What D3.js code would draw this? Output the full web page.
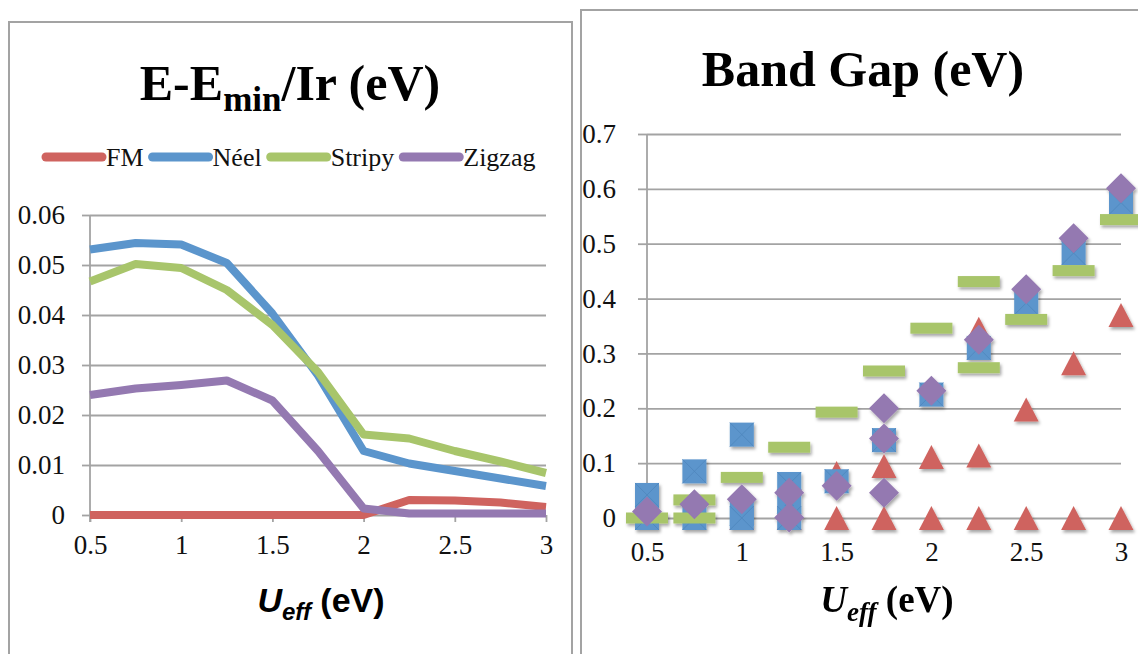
<!DOCTYPE html>
<html lang="en">
<head>
<meta charset="UTF-8">
<title>E-Emin/Ir and Band Gap vs Ueff</title>
<script src="https://cdn.jsdelivr.net/npm/d3@7/dist/d3.min.js"></script>
<style>
	body { margin: 0; background: #fff; }
	svg { display: block; }
	.serif { font-family: "Liberation Serif", "Times New Roman", serif; }
</style>
</head>
<body>
<svg></svg>
<script>
	// Ueff values (eV), shared by both panels
	var uEff = [0.5, 0.75, 1, 1.25, 1.5, 1.75, 2, 2.25, 2.5, 2.75, 3];
	var xTicks = [0.5, 1, 1.5, 2, 2.5, 3];

	// left panel: E - Emin per Ir (eV)
	var names = ['FM', 'Néel', 'Stripy', 'Zigzag'];
	var fmE     = [0, 0, 0, 0, 0, 0, 0, 0.0030, 0.0029, 0.0025, 0.0016];
	var neelE   = [0.0531, 0.0544, 0.0541, 0.0504, 0.0403, 0.0279, 0.0128, 0.0103, 0.0088, 0.0073, 0.0058];
	var stripyE = [0.0467, 0.0502, 0.0494, 0.0450, 0.0380, 0.0286, 0.0161, 0.0153, 0.0128, 0.0107, 0.0084];
	var zigzagE = [0.0240, 0.0253, 0.0260, 0.0269, 0.0229, 0.0128, 0.0013, 0.0003, 0.0003, 0.0003, 0.0003];
	var leftYTicks = [0, 0.01, 0.02, 0.03, 0.04, 0.05, 0.06];

	// right panel: band gaps (eV), several solutions per Ueff, as [Ueff, gap]
	var fmGap = [[1, 0], [1.25, 0], [1.5, 0.082], [1.5, 0], [1.75, 0.095], [1.75, 0], [2, 0.111], [2, 0],
		[2.25, 0.345], [2.25, 0.114], [2.25, 0], [2.5, 0.198], [2.5, 0], [2.75, 0.282], [2.75, 0], [3, 0.37], [3, 0]];
	var neelGap = [[0.5, 0.042], [0.5, 0], [0.75, 0.085], [0.75, 0], [1, 0.152], [1, 0.008], [1, 0],
		[1.25, 0.062], [1.25, 0.03], [1.25, 0], [1.5, 0.067], [1.75, 0.142], [2, 0.225], [2.25, 0.31],
		[2.5, 0.392], [2.75, 0.483], [3, 0.575]];
	var stripyGap = [[0.5, 0], [0.75, 0.033], [0.75, 0], [1, 0.074], [1.25, 0.129], [1.5, 0.193], [1.75, 0.268],
		[2, 0.346], [2.25, 0.431], [2.25, 0.274], [2.5, 0.362], [2.75, 0.451], [3, 0.544]];
	var zigzagGap = [[0.5, 0.012], [0.75, 0.025], [1, 0.034], [1.25, 0.046], [1.25, 0.001], [1.5, 0.059],
		[1.75, 0.2], [1.75, 0.145], [1.75, 0.046], [2, 0.232], [2.25, 0.325], [2.5, 0.417], [2.75, 0.51], [3, 0.601]];
	var rightYTicks = [0, 0.1, 0.2, 0.3, 0.4, 0.5, 0.6, 0.7];

	var colors = ['#cf635f', '#5b95cc', '#a8c56b', '#9479b1'];
	var grid = '#a3a3a3';
	var serif = '"Liberation Serif", "Times New Roman", serif';

	var svg = d3.select('svg')
		.attr('width', 1138)
		.attr('height', 654);

	var defs = svg.append('defs');
	var sh = defs.append('filter').attr('id', 'shadow')
		.attr('x', '-50%').attr('y', '-50%').attr('width', '200%').attr('height', '200%');
	sh.append('feDropShadow')
		.attr('dx', 1.5).attr('dy', 2.5).attr('stdDeviation', 1.6)
		.attr('flood-color', '#000').attr('flood-opacity', 0.35);

	// panel frames
	svg.append('rect').attr('x', 9).attr('y', 22).attr('width', 563).attr('height', 700)
		.attr('fill', '#fff').attr('stroke', grid).attr('stroke-width', 2);
	svg.append('rect').attr('x', 581).attr('y', 10).attr('width', 620).attr('height', 700)
		.attr('fill', '#fff').attr('stroke', grid).attr('stroke-width', 2);

	function styleAxis(g) {
		g.attr('font-family', serif).attr('font-size', 27);
		g.selectAll('line').attr('stroke', grid).attr('stroke-width', 1.8);
		g.selectAll('path').attr('stroke', grid).attr('stroke-width', 1.8);
		g.selectAll('text').attr('class', 'serif').attr('fill', '#111').attr('font-size', 27);
	}

	// ---------------- left panel ----------------
	var xL = d3.scaleLinear().domain([0.5, 3]).range([90, 546]);
	var yL = d3.scaleLinear().domain([0, 0.06]).range([515, 215]);

	svg.append('g')
		.attr('transform', 'translate(' + xL(0.5) + ',0)')
		.call(d3.axisLeft(yL).tickValues(leftYTicks).tickSize(-(xL(3) - xL(0.5))).tickFormat(''))
		.call(function (g) { g.select('.domain').remove(); })
		.call(styleAxis);

	svg.append('g')
		.attr('transform', 'translate(' + xL(0.5) + ',0)')
		.call(d3.axisLeft(yL).tickValues(leftYTicks).tickSize(8).tickSizeOuter(0).tickPadding(17)
			.tickFormat(function (d) { return d === 0 ? '0' : d3.format('.2f')(d); }))
		.call(function (g) { g.select('.domain').attr('d', 'M0,' + yL(0.06) + 'V' + (yL(0) + 7)); })
		.call(styleAxis);

	svg.append('g')
		.attr('transform', 'translate(0,' + yL(0) + ')')
		.call(d3.axisBottom(xL).tickValues(xTicks).tickSize(7).tickSizeOuter(0).tickPadding(13)
			.tickFormat(d3.format('')))
		.call(function (g) { g.select('.domain').remove(); })
		.call(styleAxis);

	var lineL = d3.line()
		.x(function (d, i) { return xL(uEff[i]); })
		.y(function (d) { return yL(d); });

	[fmE, neelE, stripyE, zigzagE].forEach(function (s, i) {
		svg.append('path')
			.datum(s)
			.attr('fill', 'none')
			.attr('stroke', colors[i])
			.attr('stroke-width', 8)
			.attr('stroke-linejoin', 'round')
			.attr('d', lineL);
	});

	// title
	var tL = svg.append('text')
		.attr('class', 'serif')
		.attr('x', 290).attr('y', 100)
		.attr('text-anchor', 'middle')
		.attr('font-weight', 'bold').attr('font-size', 50)
		.attr('fill', '#000');
	tL.append('tspan').text('E-E');
	tL.append('tspan').attr('dy', 11).attr('font-size', 35).text('min');
	tL.append('tspan').attr('dy', -11).text('/Ir (eV)');

	// legend
	var lx = 46;
	names.forEach(function (n, i) {
		svg.append('line')
			.attr('x1', lx).attr('x2', lx + 56)
			.attr('y1', 157).attr('y2', 157)
			.attr('stroke', colors[i]).attr('stroke-width', 9).attr('stroke-linecap', 'round');
		var t = svg.append('text')
			.attr('class', 'serif')
			.attr('x', lx + 60).attr('y', 166)
			.attr('font-size', 26)
			.attr('fill', '#111')
			.text(n);
		lx += 60 + t.node().getComputedTextLength() + 9;
	});

	// x title (sans)
	var xtL = svg.append('text')
		.attr('x', 321).attr('y', 612)
		.attr('text-anchor', 'middle')
		.attr('font-family', '"Liberation Sans", Arial, sans-serif').attr('font-weight', 'bold').attr('font-size', 34)
		.attr('fill', '#000');
	xtL.append('tspan').attr('font-style', 'italic').text('U');
	xtL.append('tspan').attr('dy', 8).attr('font-style', 'italic').attr('font-size', 24).text('eff');
	xtL.append('tspan').attr('dy', -8).text(' (eV)');

	// ---------------- right panel ----------------
	var xR = d3.scaleLinear().domain([0.5, 3]).range([647, 1121]);
	var yR = d3.scaleLinear().domain([0, 0.7]).range([518, 134]);

	svg.append('g')
		.attr('transform', 'translate(' + xR(0.5) + ',0)')
		.call(d3.axisLeft(yR).tickValues(rightYTicks).tickSize(-(xR(3) - xR(0.5))).tickFormat(''))
		.call(function (g) { g.select('.domain').remove(); })
		.call(styleAxis);

	svg.append('g')
		.attr('transform', 'translate(' + xR(0.5) + ',0)')
		.call(d3.axisLeft(yR).tickValues(rightYTicks).tickSize(9).tickSizeOuter(0).tickPadding(22)
			.tickFormat(function (d) { return d === 0 ? '0' : d3.format('.1f')(d); }))
		.call(function (g) { g.select('.domain').attr('d', 'M0,' + yR(0.7) + 'V' + (yR(0) + 7)); })
		.call(styleAxis);

	svg.append('g')
		.attr('transform', 'translate(0,' + yR(0) + ')')
		.call(d3.axisBottom(xR).tickValues(xTicks).tickSize(0).tickPadding(24).tickFormat(d3.format('')))
		.call(function (g) { g.select('.domain').remove(); })
		.call(styleAxis);

	function place(d) { return 'translate(' + xR(d[0]) + ',' + yR(d[1]) + ')'; }

	var marks = svg.append('g').attr('filter', 'url(#shadow)');

	marks.selectAll('.tri').data(fmGap).enter().append('path')
		.attr('class', 'tri')
		.attr('transform', place)
		.attr('d', 'M0,-12L12.5,12L-12.5,12Z')
		.attr('fill', colors[0]);

	var sq = marks.selectAll('.sq').data(neelGap).enter().append('g')
		.attr('class', 'sq')
		.attr('transform', place);
	sq.append('rect').attr('x', -12).attr('y', -12).attr('width', 24).attr('height', 24).attr('fill', colors[1]);
	sq.append('path').attr('d', 'M-12,-12L12,12M12,-12L-12,12')
		.attr('stroke', '#4f86bd').attr('stroke-width', 0.8).attr('fill', 'none');

	marks.selectAll('.dash').data(stripyGap).enter().append('rect')
		.attr('class', 'dash')
		.attr('transform', place)
		.attr('x', -21).attr('y', -5.5).attr('width', 42).attr('height', 11)
		.attr('fill', colors[2]);

	marks.selectAll('.dia').data(zigzagGap).enter().append('path')
		.attr('class', 'dia')
		.attr('transform', place)
		.attr('d', 'M0,-15L15,0L0,15L-15,0Z')
		.attr('fill', colors[3]);

	svg.append('text')
		.attr('class', 'serif')
		.attr('x', 863).attr('y', 86)
		.attr('text-anchor', 'middle')
		.attr('font-weight', 'bold').attr('font-size', 50)
		.attr('fill', '#000')
		.text('Band Gap (eV)');

	var xtR = svg.append('text')
		.attr('class', 'serif')
		.attr('x', 887).attr('y', 612)
		.attr('text-anchor', 'middle')
		.attr('font-weight', 'bold').attr('font-size', 37)
		.attr('fill', '#000');
	xtR.append('tspan').attr('font-style', 'italic').text('U');
	xtR.append('tspan').attr('dy', 9).attr('font-style', 'italic').attr('font-size', 27).text('eff');
	xtR.append('tspan').attr('dy', -9).text(' (eV)');
</script>
</body>
</html>
